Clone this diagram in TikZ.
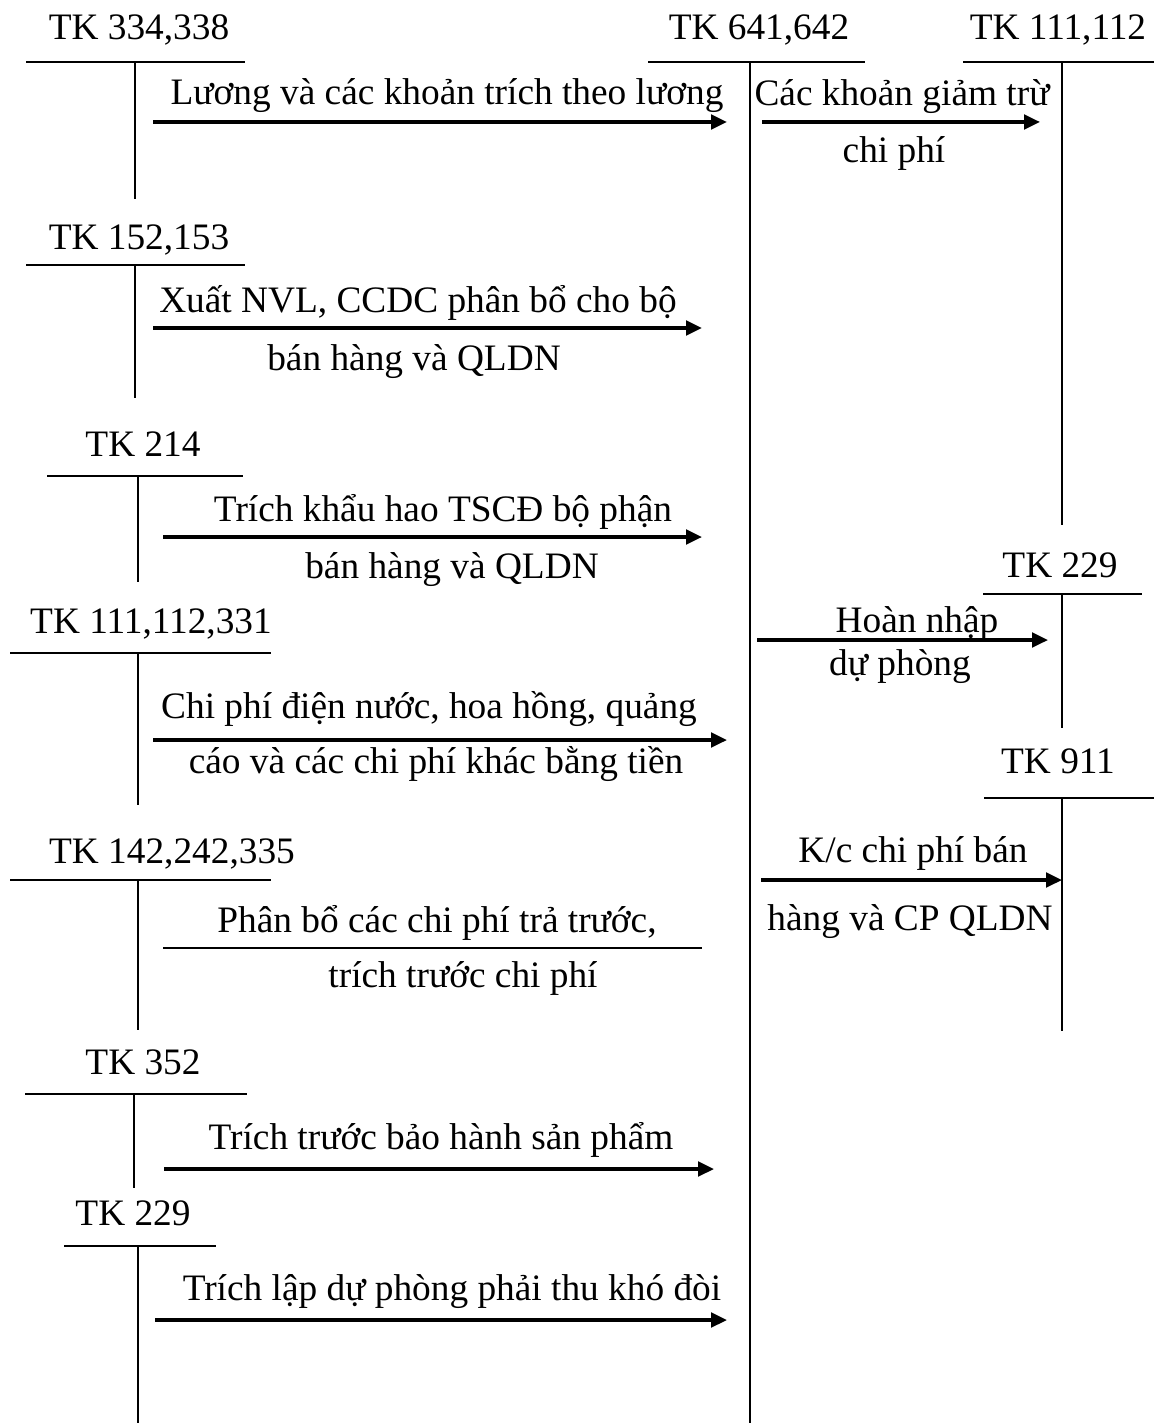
\documentclass[tikz,border=0pt]{standalone}
\usepackage{fontspec}
\setmainfont{Liberation Serif}
\usetikzlibrary{arrows.meta}
\begin{document}
\begin{tikzpicture}[x=0.75pt,y=-0.75pt,
  rule/.style={line width=1.4pt},
  flow/.style={line width=2.5pt,-{Triangle[length=12pt,width=11pt]}},
  plain/.style={line width=1.8pt},
  lbl/.style={anchor=base,inner sep=0pt,font=\fontsize{28}{33}\selectfont}]
\useasboundingbox (0,0) rectangle (1154,1423);
% ---------- T-accounts ----------
% TK 334,338
\node[lbl] (t1) at (139,40) {TK 334,338};
\coordinate (t1l) at (26,62); \coordinate (t1r) at (245,62);
\coordinate (t1t) at (135,62); \coordinate (t1b) at (135,199);
\draw[rule] (t1l) -- (t1r); \draw[rule] (t1t) -- (t1b);
% TK 641,642
\node[lbl] (t2) at (759,40) {TK 641,642};
\coordinate (t2l) at (648,62); \coordinate (t2r) at (865,62);
\coordinate (t2t) at (750,62); \coordinate (t2b) at (750,1423);
\draw[rule] (t2l) -- (t2r); \draw[rule] (t2t) -- (t2b);
% TK 111,112
\node[lbl] (t3) at (1058,40) {TK 111,112};
\coordinate (t3l) at (963,62); \coordinate (t3r) at (1154,62);
\coordinate (t3t) at (1062,62); \coordinate (t3b) at (1062,525);
\draw[rule] (t3l) -- (t3r); \draw[rule] (t3t) -- (t3b);
% TK 152,153
\node[lbl] (t4) at (139,249) {TK 152,153};
\coordinate (t4l) at (26,265); \coordinate (t4r) at (245,265);
\coordinate (t4t) at (135,265); \coordinate (t4b) at (135,398);
\draw[rule] (t4l) -- (t4r); \draw[rule] (t4t) -- (t4b);
% TK 214
\node[lbl] (t5) at (143,456) {TK 214};
\coordinate (t5l) at (47,476); \coordinate (t5r) at (243,476);
\coordinate (t5t) at (138,476); \coordinate (t5b) at (138,582);
\draw[rule] (t5l) -- (t5r); \draw[rule] (t5t) -- (t5b);
% TK 229 (right)
\node[lbl] (t6) at (1060,577) {TK 229};
\coordinate (t6l) at (983,594); \coordinate (t6r) at (1142,594);
\coordinate (t6t) at (1062,594); \coordinate (t6b) at (1062,728);
\draw[rule] (t6l) -- (t6r); \draw[rule] (t6t) -- (t6b);
% TK 111,112,331
\node[lbl] (t7) at (151,633) {TK 111,112,331};
\coordinate (t7l) at (10,653); \coordinate (t7r) at (271,653);
\coordinate (t7t) at (138,653); \coordinate (t7b) at (138,805);
\draw[rule] (t7l) -- (t7r); \draw[rule] (t7t) -- (t7b);
% TK 911
\node[lbl] (t8) at (1058,773) {TK 911};
\coordinate (t8l) at (984,798); \coordinate (t8r) at (1154,798);
\coordinate (t8t) at (1062,798); \coordinate (t8b) at (1062,1031);
\draw[rule] (t8l) -- (t8r); \draw[rule] (t8t) -- (t8b);
% TK 142,242,335
\node[lbl] (t9) at (172,863) {TK 142,242,335};
\coordinate (t9l) at (10,880); \coordinate (t9r) at (271,880);
\coordinate (t9t) at (138,880); \coordinate (t9b) at (138,1030);
\draw[rule] (t9l) -- (t9r); \draw[rule] (t9t) -- (t9b);
% TK 352
\node[lbl] (t10) at (143,1074) {TK 352};
\coordinate (t10l) at (25,1094); \coordinate (t10r) at (247,1094);
\coordinate (t10t) at (134,1094); \coordinate (t10b) at (134,1188);
\draw[rule] (t10l) -- (t10r); \draw[rule] (t10t) -- (t10b);
% TK 229 (left)
\node[lbl] (t11) at (133,1225) {TK 229};
\coordinate (t11l) at (64,1246); \coordinate (t11r) at (216,1246);
\coordinate (t11t) at (138,1246); \coordinate (t11b) at (138,1423);
\draw[rule] (t11l) -- (t11r); \draw[rule] (t11t) -- (t11b);
% ---------- flows ----------
\coordinate (a1s) at (153,122); \coordinate (a1e) at (727,122);
\draw[flow] (a1s) -- (a1e);
\node[lbl] (l1) at (447,105) {Lương và các khoản trích theo lương};
\coordinate (a2s) at (762,122); \coordinate (a2e) at (1040,122);
\draw[flow] (a2s) -- (a2e);
\node[lbl] (l2a) at (902,106) {Các khoản giảm trừ};
\node[lbl] (l2b) at (894,163) {chi phí};
\coordinate (a3s) at (153,328); \coordinate (a3e) at (702,328);
\draw[flow] (a3s) -- (a3e);
\node[lbl] (l3a) at (418,312) {Xuất NVL, CCDC phân bổ cho bộ};
\node[lbl] (l3b) at (414,370) {bán hàng và QLDN};
\coordinate (a4s) at (163,537); \coordinate (a4e) at (702,537);
\draw[flow] (a4s) -- (a4e);
\node[lbl] (l4a) at (443,521) {Trích khẩu hao TSCĐ bộ phận};
\node[lbl] (l4b) at (452,578) {bán hàng và QLDN};
\coordinate (a5s) at (757,640); \coordinate (a5e) at (1048,640);
\draw[flow] (a5s) -- (a5e);
\node[lbl] (l5a) at (917,632) {Hoàn nhập};
\node[lbl] (l5b) at (900,675) {dự phòng};
\coordinate (a6s) at (153,740); \coordinate (a6e) at (727,740);
\draw[flow] (a6s) -- (a6e);
\node[lbl] (l6a) at (429,718) {Chi phí điện nước, hoa hồng, quảng};
\node[lbl] (l6b) at (436,773) {cáo và các chi phí khác bằng tiền};
\coordinate (a7s) at (761,880); \coordinate (a7e) at (1062,880);
\draw[flow] (a7s) -- (a7e);
\node[lbl] (l7a) at (913,862) {K/c chi phí bán};
\node[lbl] (l7b) at (910,930) {hàng và CP QLDN};
\coordinate (a8s) at (163,948); \coordinate (a8e) at (702,948);
\draw[plain] (a8s) -- (a8e);
\node[lbl] (l8a) at (437,932) {Phân bổ các chi phí trả trước,};
\node[lbl] (l8b) at (463,987) {trích trước chi phí};
\coordinate (a9s) at (164,1169); \coordinate (a9e) at (714,1169);
\draw[flow] (a9s) -- (a9e);
\node[lbl] (l9) at (441,1149) {Trích trước bảo hành sản phẩm};
\coordinate (a10s) at (155,1320); \coordinate (a10e) at (727,1320);
\draw[flow] (a10s) -- (a10e);
\node[lbl] (l10) at (452,1300) {Trích lập dự phòng phải thu khó đòi};
\end{tikzpicture}
\end{document}
